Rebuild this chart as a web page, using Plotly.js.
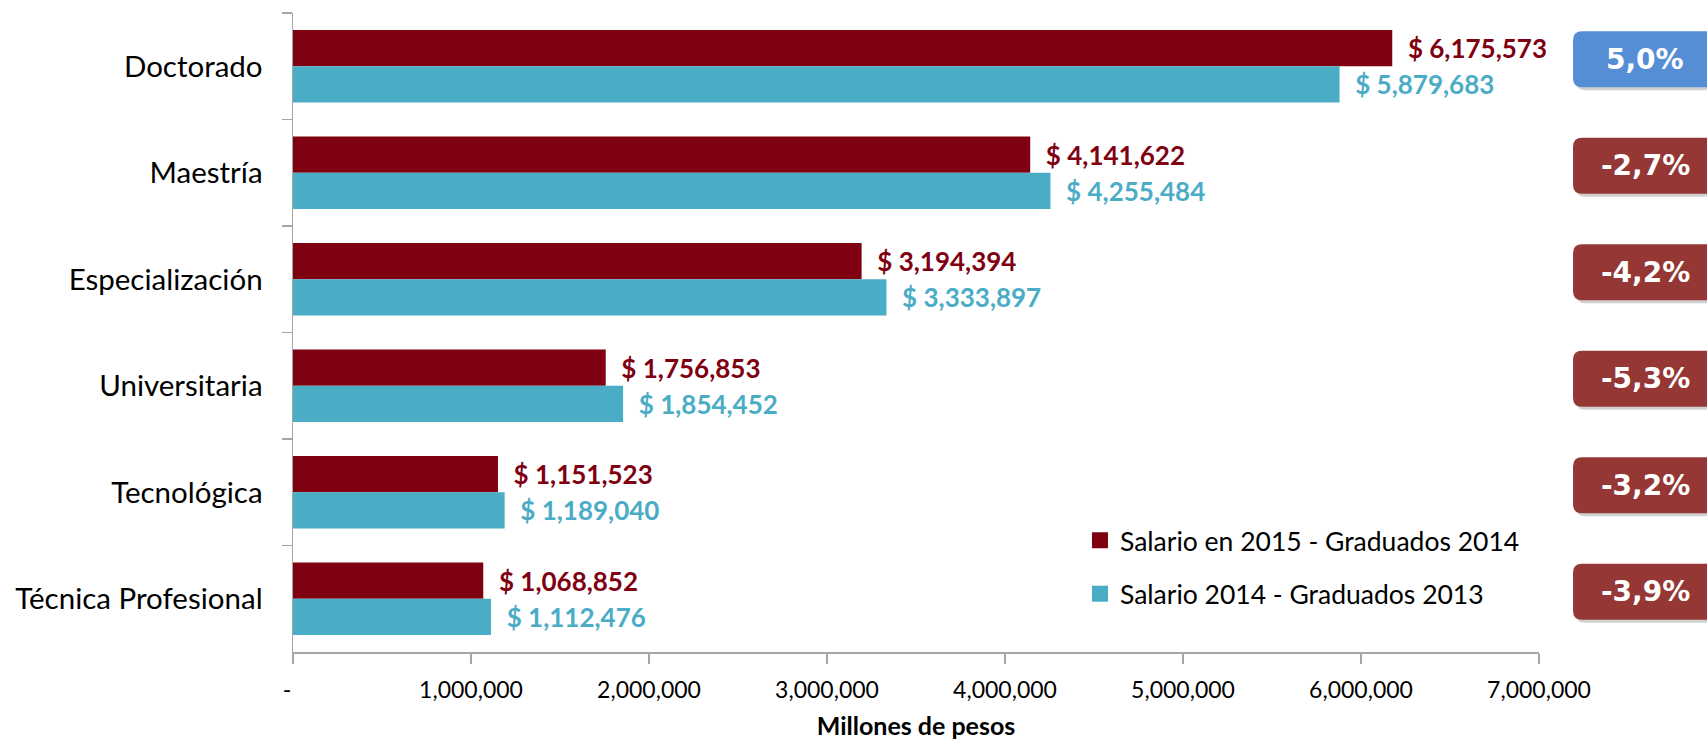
<!DOCTYPE html>
<html>
<head>
<meta charset="utf-8">
<script src="https://cdn.plot.ly/plotly-3.0.1.min.js"></script>
<style>html,body{margin:0;padding:0;background:#fff;}#chart{width:1707px;height:740px;}</style>
</head>
<body>
<div id="chart"></div>
<script>
// ---- data ----
const categories = ['Doctorado', 'Maestría', 'Especialización', 'Universitaria', 'Tecnológica', 'Técnica Profesional'];
const salario2015 = [6175573, 4141622, 3194394, 1756853, 1151523, 1068852];
const salario2014 = [5879683, 4255484, 3333897, 1854452, 1189040, 1112476];
const seriesNames = ['Salario en 2015 - Graduados 2014', 'Salario 2014 - Graduados 2013'];
const variacion = ['5,0%', '-2,7%', '-4,2%', '-5,3%', '-3,2%', '-3,9%'];
const xTickVals = [0, 1000000, 2000000, 3000000, 4000000, 5000000, 6000000, 7000000];
const xTickText = ['-\u00a0\u00a0', '1,000,000', '2,000,000', '3,000,000', '4,000,000', '5,000,000', '6,000,000', '7,000,000'];

// ---- style ----
const MAROON = '#7F0011';
const TEAL = '#4BACC6';
const BLUE_BADGE = '#558ED5';
const RED_BADGE = '#953735';
const AXIS = '#A6A6A6';
const FONT = 'Lato, "Open Sans", sans-serif';

const traces = [
  {
    type: 'bar', orientation: 'h', name: seriesNames[0],
    y: categories, x: salario2015,
    marker: {color: MAROON},
    texttemplate: '\u00a0\u00a0$ %{x:,}', textposition: 'outside',
    textfont: {family: FONT, size: 26, color: MAROON, weight: 'bold'},
    constraintext: 'none', cliponaxis: false, legendgroup: 'a', hoverinfo: 'skip'
  },
  {
    type: 'bar', orientation: 'h', name: seriesNames[1],
    y: categories, x: salario2014,
    marker: {color: TEAL},
    texttemplate: '\u00a0\u00a0$ %{x:,}', textposition: 'outside',
    textfont: {family: FONT, size: 26, color: TEAL, weight: 'bold'},
    constraintext: 'none', cliponaxis: false, legendgroup: 'b', hoverinfo: 'skip'
  }
];

const badgeX = 1.0851;
const badgeShift = 7;
const rr = (w, h, r, dx, dy) => {
  const x0 = -w/2 + dx, x1 = w/2 + dx, y0 = -h/2 + dy, y1 = h/2 + dy;
  return `M ${x0+r},${y0} L ${x1-r},${y0} Q ${x1},${y0} ${x1},${y0+r} L ${x1},${y1-r} Q ${x1},${y1} ${x1-r},${y1} L ${x0+r},${y1} Q ${x0},${y1} ${x0},${y1-r} L ${x0},${y0+r} Q ${x0},${y0} ${x0+r},${y0} Z`;
};

const shapes = [];
const annotations = [];
categories.forEach((c, i) => {
  const col = variacion[i].startsWith('-') ? RED_BADGE : BLUE_BADGE;
  shapes.push({
    type: 'path', xref: 'paper', yref: 'y', xsizemode: 'pixel', ysizemode: 'pixel',
    xanchor: badgeX, yanchor: c, path: rr(144, 56, 9, 3, badgeShift - 3),
    fillcolor: 'rgba(0,0,0,0.18)', line: {width: 0}, layer: 'above'
  });
  shapes.push({
    type: 'path', xref: 'paper', yref: 'y', xsizemode: 'pixel', ysizemode: 'pixel',
    xanchor: badgeX, yanchor: c, path: rr(144, 56, 9, 0, badgeShift),
    fillcolor: col, line: {width: 0}, layer: 'above'
  });
  annotations.push({
    xref: 'paper', yref: 'y', x: badgeX, y: c, yshift: badgeShift,
    text: variacion[i], showarrow: false, xanchor: 'center', yanchor: 'middle',
    font: {family: 'DejaVu Sans', size: 28, color: '#FFFFFF', weight: 'bold'}
  });
});

const layout = {
  width: 1707, height: 740,
  margin: {l: 293, r: 168, t: 13, b: 88},
  paper_bgcolor: '#FFFFFF', plot_bgcolor: '#FFFFFF',
  font: {family: FONT, color: '#000000'},
  barmode: 'group', bargap: 0.32, bargroupgap: 0,
  showlegend: true,
  legend: {
    x: 0.6316, xanchor: 'left', y: 0.212, yanchor: 'top',
    font: {family: FONT, size: 26.5, color: '#000'},
    traceorder: 'grouped', tracegroupgap: 16,
    bgcolor: 'rgba(0,0,0,0)', borderwidth: 0
  },
  xaxis: {
    range: [0, 7000000], tickvals: xTickVals, ticktext: xTickText,
    showgrid: false, zeroline: false, showline: true, linecolor: AXIS, linewidth: 1.5,
    ticks: 'outside', ticklen: 10, tickcolor: AXIS, tickwidth: 1.5,
    tickfont: {family: FONT, size: 23, color: '#000'}, ticklabelstandoff: 7,
    title: {text: 'Millones de pesos', font: {family: FONT, size: 25, color: '#000', weight: 'bold'}, standoff: 22}
  },
  yaxis: {
    type: 'category', autorange: 'reversed',
    showgrid: false, zeroline: false, showline: true, linecolor: AXIS, linewidth: 1.5,
    ticks: 'outside', ticklen: 10, tickcolor: AXIS, tickwidth: 1.5, tickson: 'boundaries',
    tickfont: {family: FONT, size: 29.5, color: '#000'}, ticklabelstandoff: 23
  },
  shapes: shapes,
  annotations: annotations
};

Plotly.newPlot('chart', traces, layout, {staticPlot: true, displayModeBar: false}).then(gd => {
  // enlarge the legend colour squares to match the reference (keep Plotly's own placement)
  gd.querySelectorAll('.legend .legendpoints path').forEach(p => p.setAttribute('d', 'M8,8H-8V-8H8Z'));
});
</script>
</body>
</html>
